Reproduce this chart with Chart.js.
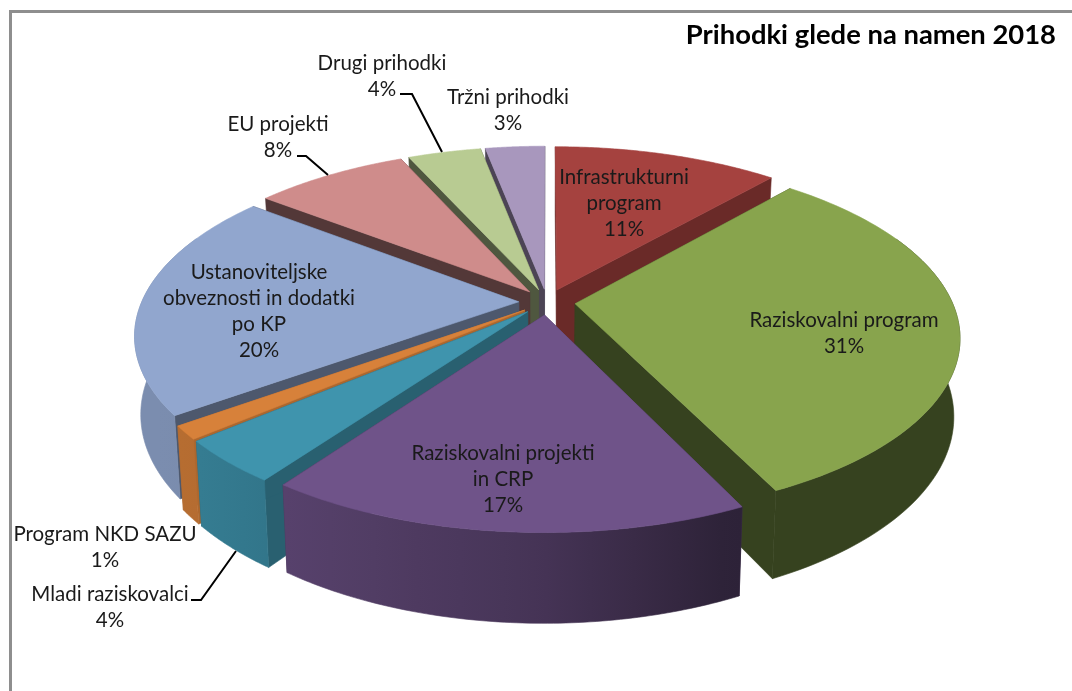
<!DOCTYPE html>
<html>
<head>
<meta charset="utf-8">
<title>Prihodki glede na namen 2018</title>
<script src="https://cdn.jsdelivr.net/npm/chart.js@4/dist/chart.umd.min.js"></script>
<style>
  html, body { margin: 0; background: #fff; }
  #wrap { position: relative; width: 1072px; height: 691px; overflow: hidden; }
  #frame { position: absolute; left: 9px; top: 10px; width: 1100px; height: 700px; border-left: 3px solid #8e8e8e; border-top: 3px solid #8e8e8e; }
  canvas { position: absolute; left: 0; top: 0; }
</style>
</head>
<body>
<div id="wrap">
  <div id="frame"></div>
  <canvas id="chart" width="1072" height="691"></canvas>
</div>
<script>
const categories = ['Infrastrukturni program', 'Raziskovalni program', 'Raziskovalni projekti in CRP', 'Mladi raziskovalci', 'Program NKD SAZU', 'Ustanoviteljske obveznosti in dodatki po KP', 'EU projekti', 'Drugi prihodki', 'Tržni prihodki']
const values = [11.4, 31.45, 17.0, 3.9, 1.2, 20.5, 7.8, 3.7, 3.0]
const percentLabels = ['11%', '31%', '17%', '4%', '1%', '20%', '8%', '4%', '3%']

const topColors = ['#a5423f', '#88a44d', '#6f5389', '#3f94ad', '#d7813a', '#91a6ce', '#cf8c8b', '#b8cb92', '#a897bd']
const sideShade = [0.64, 0.4, 0.6, 0.65, 0.8, 0.53, 0.4, 0.43, 0.45]

// Tekst oznak: vrstice, sredina x, sredina prve vrstice
const labelLines = [
  ['Infrastrukturni', 'program'],
  ['Raziskovalni program'],
  ['Raziskovalni projekti', 'in CRP'],
  ['Mladi raziskovalci'],
  ['Program NKD SAZU'],
  ['Ustanoviteljske', 'obveznosti in dodatki', 'po KP'],
  ['EU projekti'],
  ['Drugi prihodki'],
  ['Tržni prihodki']
]
const labelAt = [[624, 177], [844, 320], [503, 453], [110, 594], [105, 534], [259, 272], [278, 124], [382, 63], [508, 97]]
const leaders = [
  [[297, 156], [306, 156], [328, 175]],
  [[400, 94], [412, 94], [442, 152]],
  [[191, 600], [201, 600], [236, 551]]
]

// Perspektiva tortnega diagrama
const CX = 547, CY = 302, RX = 377, RY = 173, PERSP = 0.18, DEPTH = 76, BOTTOM_SCALE = 0.985

function project(nx, ny, bottom) {
  const w = 1 + PERSP * ny
  let x = RX * nx / w
  let y = -RY * ny / w
  if (bottom) {
    x *= BOTTOM_SCALE
    y = y * BOTTOM_SCALE + DEPTH / w
  }
  return [CX + x, CY + y]
}

function shade(hex, f) {
  const n = parseInt(hex.slice(1), 16)
  return `rgb(${Math.round((n >> 16) * f)},${Math.round(((n >> 8) & 255) * f)},${Math.round((n & 255) * f)})`
}

function fillPoly(ctx, pts, color) {
  ctx.beginPath()
  pts.forEach((p, i) => i ? ctx.lineTo(p[0], p[1]) : ctx.moveTo(p[0], p[1]))
  ctx.closePath()
  ctx.fillStyle = color
  ctx.strokeStyle = color
  ctx.lineWidth = 0.6
  ctx.fill()
  ctx.stroke()
}

// Vodoravni preliv zunanje stene: levo svetleje, desno temneje
function wallGradient(ctx, color) {
  const x0 = CX - RX * 1.15, x1 = CX + RX * 1.15
  const g = ctx.createLinearGradient(x0, 0, x1, 0)
  for (let k = 0; k <= 20; k++) {
    const u = (x0 + (x1 - x0) * k / 20 - CX) / RX
    const f = Math.min(0.85, Math.max(0.4, 0.62 - (u < 0 ? 0.24 : 0.44) * u))
    g.addColorStop(k / 20, shade(color, f))
  }
  return g
}

const pie3d = {
  id: 'pie3d',
  beforeDatasetsDraw(chart) {
    const ctx = chart.ctx
    const arcs = chart.getDatasetMeta(0).data
    const slices = arcs.map((el, i) => {
      const mid = (el.startAngle + el.endAngle) / 2
      const e = el.options.offset / el.outerRadius
      return { i, start: el.startAngle, end: el.endAngle, ex: Math.cos(mid) * e, ey: -Math.sin(mid) * e, depth: -Math.sin(mid) }
    })
    slices.sort((a, b) => b.depth - a.depth)

    slices.forEach(s => {
      const color = topColors[s.i]
      const side = shade(color, sideShade[s.i])
      const pt = (a, bottom) => project(Math.cos(a) + s.ex, -Math.sin(a) + s.ey, bottom)
      const tip = b => project(s.ex, s.ey, b)
      const steps = 80

      // Radialni steni
      fillPoly(ctx, [tip(false), pt(s.start, false), pt(s.start, true), tip(true)], side)
      fillPoly(ctx, [tip(false), pt(s.end, false), pt(s.end, true), tip(true)], side)

      // Zunanja stena, zadnji del ostane skrit pod ploskvijo
      const upper = [], lower = []
      for (let k = 0; k <= steps; k++) {
        const a = s.start + (s.end - s.start) * k / steps
        if (-Math.sin(a) < 0.4) {
          upper.push(pt(a, false))
          lower.unshift(pt(a, true))
        }
      }
      if (upper.length > 1) fillPoly(ctx, upper.concat(lower), wallGradient(ctx, color))

      // Zgornja ploskev
      const top = [tip(false)]
      for (let k = 0; k <= steps; k++) top.push(pt(s.start + (s.end - s.start) * k / steps, false))
      fillPoly(ctx, top, color)
    })
    return false
  },
  afterDraw(chart) {
    const ctx = chart.ctx
    ctx.save()
    ctx.strokeStyle = '#000'
    ctx.lineWidth = 2
    leaders.forEach(line => {
      ctx.beginPath()
      line.forEach((p, i) => i ? ctx.lineTo(p[0], p[1]) : ctx.moveTo(p[0], p[1]))
      ctx.stroke()
    })
    ctx.fillStyle = '#1a1a1a'
    ctx.font = '20.5px Lato'
    ctx.textAlign = 'center'
    ctx.textBaseline = 'middle'
    labelLines.forEach((lines, i) => {
      const [x, y] = labelAt[i]
      lines.concat(percentLabels[i]).forEach((t, k) => ctx.fillText(t, x, y + k * 26))
    })
    ctx.restore()
  }
}

new Chart(document.getElementById('chart'), {
  type: 'pie',
  plugins: [pie3d],
  data: {
    labels: categories,
    datasets: [{ data: values, backgroundColor: topColors, borderWidth: 0, offset: 22.5 }]
  },
  options: {
    responsive: false,
    animation: false,
    radius: 300,
    layout: { padding: { top: 19, right: 16 } },
    plugins: {
      legend: { display: false },
      tooltip: { enabled: false },
      title: {
        display: true,
        text: 'Prihodki glede na namen 2018',
        align: 'end',
        color: '#000',
        font: { family: 'Lato', size: 27.4, weight: 'bold' },
        padding: { top: 0, bottom: 10 }
      }
    }
  }
})
</script>
</body>
</html>
